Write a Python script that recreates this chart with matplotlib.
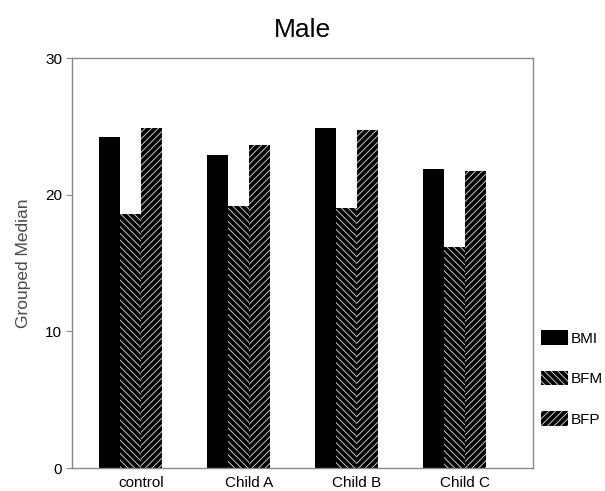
import numpy as np
import matplotlib
matplotlib.use('Agg')
import matplotlib.pyplot as plt

plt.rcParams.update({
    'font.family': ['Liberation Sans', 'DejaVu Sans'],
    'hatch.linewidth': 0.7,
})

groups = ['control', 'Child A', 'Child B', 'Child C']
bmi = [24.2, 22.9, 24.9, 21.9]
bfm = [18.6, 19.2, 19.0, 16.2]
bfp = [24.9, 23.6, 24.7, 21.7]

fig = plt.figure(figsize=(6.05, 4.91), dpi=100)
ax = fig.add_axes([72/605, 23/491, 461/605, 410/491])

x = np.arange(len(groups))
w = 0.195
ax.bar(x - w, bmi, w, color='black', linewidth=0, label='BMI')
ax.bar(x, bfm, w, facecolor='black', edgecolor='#c8c8c8', linewidth=0,
       hatch='\\\\\\\\\\', label='BFM')
ax.bar(x + w, bfp, w, facecolor='black', edgecolor='#c8c8c8', linewidth=0,
       hatch='/////', label='BFP')

ax.set_xlim(-0.54, 3.73)
ax.set_ylim(0, 30)
ax.set_yticks([0, 10, 20, 30])
ax.set_xticks(x + w / 2)
ax.set_xticklabels(groups)
ax.tick_params(axis='x', length=0, pad=6, labelsize=11)
ax.tick_params(axis='y', length=4, color='#888888', labelsize=11, pad=3)
for s in ax.spines.values():
    s.set_color('#888888')
    s.set_linewidth(1.0)

ax.set_ylabel('Grouped Median', fontsize=12.5, color='#4a4a4a', labelpad=10)
fig.text(0.5, 1 - 30/491, 'Male', ha='center', va='center', fontsize=19)

fig.legend(loc='upper left', bbox_to_anchor=(541/605, 1 - 330/491),
           frameon=False, borderpad=0, borderaxespad=0,
           handlelength=1.75, handleheight=1.1,
           labelspacing=1.65, handletextpad=0.2, fontsize=11)

fig.savefig('out.png', dpi=100, facecolor='white')
